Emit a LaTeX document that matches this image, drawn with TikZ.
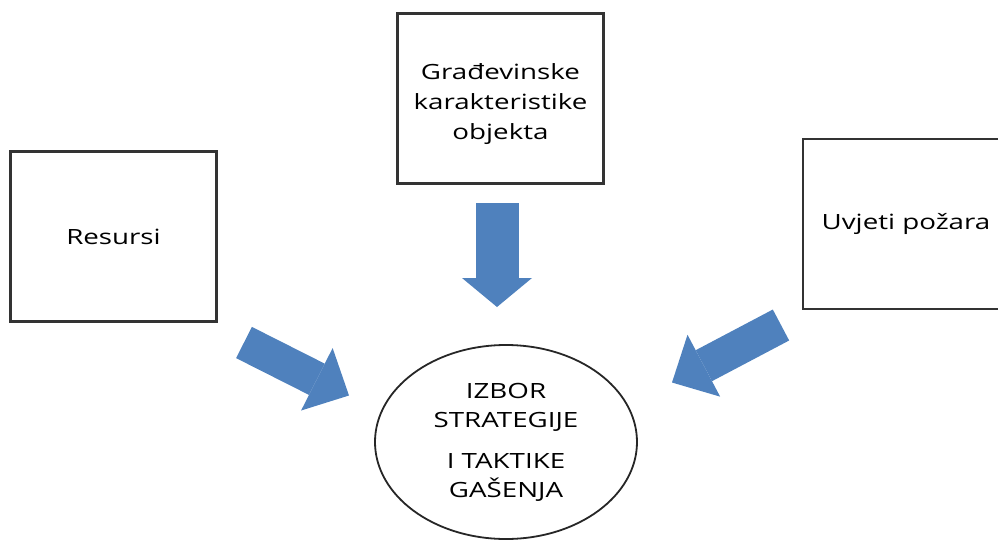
\documentclass[tikz,border=0pt]{standalone}
\usepackage{fontspec}
\setmainfont{Open Sans}[FakeStretch=1.32]
\usepackage{xcolor}
\usetikzlibrary{arrows.meta, shapes.geometric}
\definecolor{arrowblue}{RGB}{79, 129, 189}

\begin{document}
\begin{tikzpicture}[x=0.5pt, y=-0.5pt,
    box/.style={draw=black!80, line width=1.1pt, minimum width=103pt, minimum height=85pt,
                inner sep=0pt, align=center, font=\fontsize{10.5}{15}\selectfont},
    boxtext/.style={inner sep=0pt, align=center, font=\fontsize{10.5}{15}\selectfont},
    goal/.style={draw=black!85, line width=0.9pt, ellipse, minimum width=131pt, minimum height=97pt,
                 inner sep=0pt, align=center, font=\fontsize{10.5}{14.5}\selectfont},
    bigarrow/.style={draw=arrowblue, line width=17.5pt,
                     -{Triangle[width=35pt, length=18pt, line width=0pt]}},
    downarrow/.style={draw=arrowblue, line width=21.5pt,
                      -{Triangle[width=35pt, length=14.5pt, line width=0pt]}}]
    \useasboundingbox (0,0) rectangle (998,542);
    \clip (0,0) rectangle (998,542);

    \node[box] (resursi) at (113.5,236.5) {Resursi};
    \node[box] (gradja)  at (500.5,98.5)  {};
    \node[boxtext] (gradjatext) at (500.5,104) {Građevinske\\karakteristike\\objekta};
    \node[box] (uvjeti)  at (906,224)     {Uvjeti požara};
    \node[goal] (izbor)  at (506,442)
        {IZBOR\\STRATEGIJE\\[6pt]I TAKTIKE\\GAŠENJA};

    % block arrows towards the choice
    \coordinate (d1) at (497,203);
    \coordinate (d2) at (497,307);
    \coordinate (l1) at (244,342.5);
    \coordinate (l2) at (349,395.5);
    \coordinate (r1) at (781,325);
    \coordinate (r2) at (672,382.5);
    \draw[downarrow] (d1) -- (d2);
    \draw[bigarrow]  (l1) -- (l2);
    \draw[bigarrow]  (r1) -- (r2);
\end{tikzpicture}
\end{document}
